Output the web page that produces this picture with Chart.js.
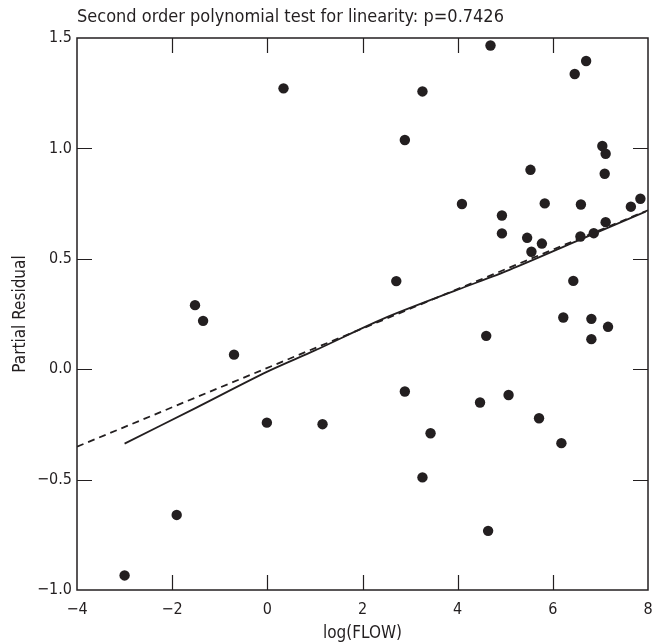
<!DOCTYPE html>
<html>
<head>
<meta charset="utf-8">
<script src="https://cdn.jsdelivr.net/npm/chart.js@4.4.1/dist/chart.umd.min.js"></script>
<style>
  html, body { margin: 0; padding: 0; background: #fff; }
  #wrap { width: 665px; height: 644px; }
</style>
</head>
<body>
<div id="wrap"><canvas id="chart" width="665" height="644"></canvas></div>
<script>
// observed points: log(FLOW) vs partial residual
const flowX = [-3.0, -1.905, -1.52, -1.35, -0.70, -0.01, 0.34, 1.16,
  2.71, 2.89, 2.89, 3.26, 3.26, 3.43, 4.09, 4.47, 4.60, 4.64, 4.69, 4.93, 4.93,
  5.07, 5.46, 5.53, 5.55, 5.71, 5.77, 5.83, 6.18, 6.22, 6.43, 6.46, 6.58, 6.59,
  6.70, 6.81, 6.81, 6.86, 7.04, 7.09, 7.11, 7.11, 7.16, 7.64, 7.84];
const residual = [-0.934, -0.660, 0.290, 0.219, 0.066, -0.242, 1.272, -0.249,
  0.399, 1.038, -0.101, 1.258, -0.490, -0.290, 0.748, -0.151, 0.151, -0.732, 1.466, 0.696, 0.615,
  -0.117, 0.595, 0.903, 0.532, -0.222, 0.569, 0.751, -0.335, 0.234, 0.400, 1.337, 0.601, 0.746,
  1.396, 0.228, 0.136, 0.616, 1.011, 0.885, 0.976, 0.666, 0.192, 0.736, 0.772];

// smooth (solid) and linear fit (dashed)
const smoothX = [-3.0, -1.5, 0, 1, 2.43, 4, 5.09, 6.5, 7.95];
const smoothY = [-0.337, -0.175, -0.011, 0.085, 0.228, 0.36, 0.45, 0.58, 0.714];
const fitX = [-4, 8];
const fitY = [-0.351, 0.720];

const xTicks = [-4, -2, 0, 2, 4, 6, 8];
const yTicks = [-1.0, -0.5, 0.0, 0.5, 1.0, 1.5];

const FONT = '"Liberation Sans Narrow", "DejaVu Sans Condensed", "Arial Narrow", sans-serif';
const INK = '#231f20';

const toPts = (xs, ys) => xs.map((x, i) => ({ x: x, y: ys[i] }));

// box around plot + inward tick marks on all four sides
const frame = {
  id: 'frame',
  afterDraw(chart) {
    const { ctx, chartArea: a, scales } = chart;
    ctx.save();
    ctx.strokeStyle = INK;
    ctx.lineWidth = 1.5;
    ctx.strokeRect(a.left, a.top, a.right - a.left, a.bottom - a.top);
    ctx.lineWidth = 1.2;
    const len = 15;
    ctx.beginPath();
    xTicks.slice(1, -1).forEach(v => {
      const px = Math.round(scales.x.getPixelForValue(v)) + 0.5;
      ctx.moveTo(px, a.bottom); ctx.lineTo(px, a.bottom - len);
      ctx.moveTo(px, a.top); ctx.lineTo(px, a.top + len);
    });
    yTicks.slice(1, -1).forEach(v => {
      const py = Math.round(scales.y.getPixelForValue(v)) + 0.5;
      ctx.moveTo(a.left, py); ctx.lineTo(a.left + len, py);
      ctx.moveTo(a.right, py); ctx.lineTo(a.right - len, py);
    });
    ctx.stroke();
    ctx.restore();
  }
};

const data = {
  datasets: [{
    label: 'Partial residual',
    data: toPts(flowX, residual),
    backgroundColor: INK,
    borderColor: INK,
    pointRadius: 5.2,
    borderWidth: 0,
    order: 1
  }, {
    label: 'Smooth',
    data: toPts(smoothX, smoothY),
    showLine: true,
    borderColor: INK,
    borderWidth: 1.8,
    pointRadius: 0,
    tension: 0.3,
    order: 2
  }, {
    label: 'Linear fit',
    data: toPts(fitX, fitY),
    showLine: true,
    borderColor: INK,
    borderWidth: 1.8,
    borderDash: [7, 5],
    pointRadius: 0,
    order: 3
  }]
};

const options = {
  responsive: false,
  animation: false,
  layout: { padding: { left: 0, right: 17, top: 0, bottom: 0 } },
  plugins: {
    legend: { display: false },
    tooltip: { enabled: false },
    title: {
      display: true,
      text: 'Second order polynomial test for linearity: p=0.7426',
      align: 'start',
      fullSize: false,
      color: INK,
      font: { family: FONT, size: 18, weight: 'normal' },
      padding: { top: 7, bottom: 9.4 }
    }
  },
  scales: {
    x: {
      type: 'linear',
      min: -4, max: 8,
      afterBuildTicks: s => { s.ticks = xTicks.map(v => ({ value: v })); },
      afterFit: s => { s.height = 54; },
      grid: { display: false, drawTicks: false },
      border: { display: false },
      ticks: {
        color: INK, padding: 10,
        font: { family: FONT, size: 16 },
        callback: v => String(v).replace('-', '\u2212')
      },
      title: {
        display: true, text: 'log(FLOW)', color: INK,
        font: { family: FONT, size: 17 },
        padding: { top: 0, bottom: 0 }
      }
    },
    y: {
      type: 'linear',
      min: -1.0, max: 1.5,
      afterBuildTicks: s => { s.ticks = yTicks.map(v => ({ value: v })); },
      afterFit: s => { s.width = 77; },
      grid: { display: false, drawTicks: false },
      border: { display: false },
      ticks: {
        color: INK, padding: 5,
        font: { family: FONT, size: 16 },
        callback: v => v.toFixed(1).replace('-', '\u2212')
      },
      title: {
        display: true, text: 'Partial Residual', color: INK,
        font: { family: FONT, size: 17 },
        padding: { top: 10, bottom: 0 }
      }
    }
  }
};

new Chart(document.getElementById('chart'), {
  type: 'scatter',
  data: data,
  options: options,
  plugins: [frame]
});
</script>
</body>
</html>
